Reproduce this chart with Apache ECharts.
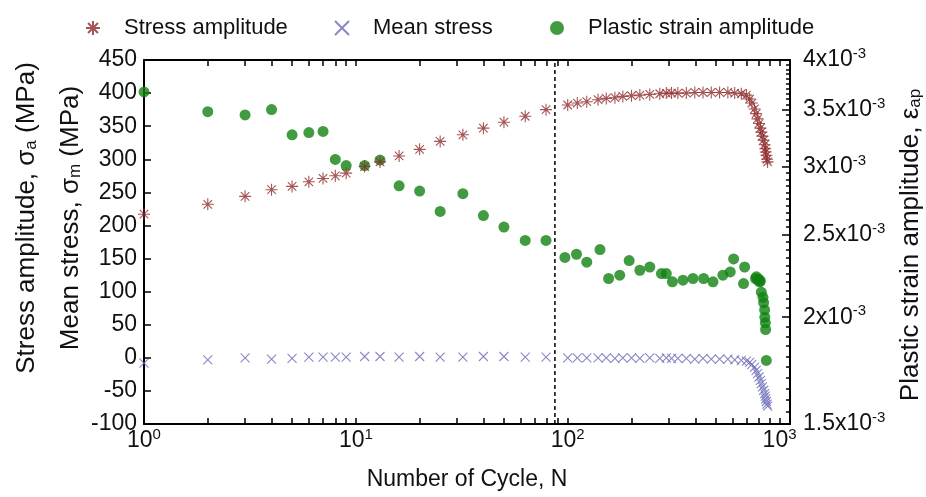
<!DOCTYPE html>
<html><head><meta charset="utf-8">
<script src="https://cdn.jsdelivr.net/npm/echarts@6/dist/echarts.min.js"></script>
<style>html,body{margin:0;padding:0;background:#fff}
.layer{position:absolute;left:0;top:0;width:926px;height:497px}</style>
</head><body><div id="axes" class="layer"></div><div id="c" class="layer"></div>
<script>
// ---- data ----
const cyclesStress = [1,2,3,4,5,6,7,8,9,
  11,13,16,20,25,32,40,50,63,79,
  100,111,123,139,152,167,182,200,219,244,
  272,292,309,331,363,398,435,476,521,570,
  614,660,
  697,722,740,762,775,787,800,812,820,830,
  841,850,856,860,866,872,878];
const stressAmplitude = [217,232,244,254,259,266,271,275,279,
  289,296,305,315,327,337,347,356,365,375,
  382,385,387,390,392,393,395,396,397,398,
  399,400,400,400,400,401,401,401,401,401,
  400,399,
  397,391,385,376,369,361,354,347,341,335,
  329,322,316,311,306,300,296];
const meanStress = [-8,-3,0,-2,-1,1,1,1,1,
  2,2,1,2,1,1,2,2,1,1,
  0,0,0,0,0,-1,0,0,-1,0,
  -1,0,-1,-1,-1,-2,-1,-2,-2,-2,
  -3,-4,
  -5,-7,-10,-14,-19,-24,-29,-34,-39,-44,
  -49,-54,-58,-62,-66,-70,-73];
const cyclesStrain = [1,2,3,4,5,6,7,8,9,
  11,13,16,20,25,32,40,50,63,79,
  97,110,123,142,156,176,195,219,244,
  277,292,312,350,390,438,485,540,585,607,
  676,684,770,777,790,800,805,812,820,835,
  841,850,852,857,859,866];
const plasticStrainAmplitude = [3.67e-3,3.48e-3,3.45e-3,3.50e-3,3.27e-3,3.29e-3,3.30e-3,3.06e-3,3.01e-3,
  3.01e-3,3.055e-3,2.85e-3,2.81e-3,2.66e-3,2.79e-3,2.63e-3,2.55e-3,2.46e-3,2.46e-3,
  2.35e-3,2.37e-3,2.32e-3,2.40e-3,2.22e-3,2.24e-3,2.33e-3,2.27e-3,2.29e-3,
  2.25e-3,2.25e-3,2.20e-3,2.21e-3,2.22e-3,2.22e-3,2.20e-3,2.24e-3,2.26e-3,2.34e-3,
  2.19e-3,2.29e-3,2.22e-3,2.23e-3,2.21e-3,2.215e-3,2.20e-3,2.205e-3,2.14e-3,2.11e-3,
  2.08e-3,2.04e-3,2.00e-3,1.97e-3,1.935e-3,1.78e-3];
const xTickLabels = [1,10,100,1000];
const leftTicks = {min:-100, max:450, interval:50};
const rightTickLabels = [0.0015,0.002,0.0025,0.003,0.0035,0.004];
const markerCycle = 87;

// ---- shared scale settings ----
const FONT = '"Liberation Sans", Arial, sans-serif';
const INK = '#111';
const GRID = {left:144, right:136, top:60, bottom:73};
const X_RANGE = {min:1, max:1120};
const R_RANGE = {min:0.0015, max:0.004};
const xMinor = [];
[1,10,100].forEach(d => { for (let k = 1; k <= 9; k++) xMinor.push(k*d); });
xMinor.push(1000);
const rightMinor = [];
for (let i = 30; i <= 80; i++) rightMinor.push(+(i*0.00005).toFixed(6));

const zip = (a,b) => a.map((v,i) => [v,b[i]]);
const mkLine = () => ({show:true, onZero:false, lineStyle:{color:'#000', width:2}});
const mkTick = (len, vals) => {
  const t = {show:true, inside:true, length:len, lineStyle:{color:'#000', width:1.5}};
  if (vals) t.customValues = vals;
  return t;
};
const mkSup = () => ({fontSize:15, fontFamily:FONT, color:INK, padding:[0,0,12,0]});

// ---- layer 1: axes frame, ticks, tick labels, x-axis name ----
const axesChart = echarts.init(document.getElementById('axes'));
axesChart.setOption({
  animation:false,
  grid:GRID,
  xAxis:[
    {type:'log', logBase:10, min:X_RANGE.min, max:X_RANGE.max, position:'bottom',
     axisLine:mkLine(), axisTick:mkTick(6, xMinor),
     axisLabel:{show:true, customValues:xTickLabels, margin:3, fontSize:23, fontFamily:FONT, color:INK,
       formatter: v => '10{sup|' + Math.round(Math.log10(v)) + '}', rich:{sup:mkSup()}},
     splitLine:{show:false},
     name:'Number of Cycle, N', nameLocation:'middle', nameGap:44,
     nameTextStyle:{fontSize:23, fontFamily:FONT, color:INK}},
    {type:'log', logBase:10, min:X_RANGE.min, max:X_RANGE.max, position:'top',
     axisLine:mkLine(), axisTick:mkTick(6, xMinor), axisLabel:{show:false}, splitLine:{show:false}}
  ],
  yAxis:[
    {type:'value', min:leftTicks.min, max:leftTicks.max, interval:leftTicks.interval, position:'left',
     axisLine:mkLine(), axisTick:mkTick(7),
     axisLabel:{show:true, margin:7, fontSize:23, fontFamily:FONT, color:INK}, splitLine:{show:false}},
    {type:'log', logBase:10, min:R_RANGE.min, max:R_RANGE.max, position:'right',
     axisLine:mkLine(), axisTick:mkTick(8, rightTickLabels),
     axisLabel:{show:true, customValues:rightTickLabels, margin:13, fontSize:23, fontFamily:FONT, color:INK,
       formatter: v => (Math.round(v*1e4)/10) + 'x10{sup|-3}', rich:{sup:mkSup()}},
     splitLine:{show:false}},
    {type:'log', logBase:10, min:R_RANGE.min, max:R_RANGE.max, position:'right',
     axisLine:{show:false}, axisTick:mkTick(4, rightMinor), axisLabel:{show:false}, splitLine:{show:false}}
  ],
  series:[{type:'scatter', data:[]}]
});

// ---- layer 2: data marks, legend, axis titles (same grid and scales) ----
const hiddenAxis = (extra) => Object.assign({axisLine:{show:false}, axisTick:{show:false},
  axisLabel:{show:false}, splitLine:{show:false}}, extra);
const star = 'path://M0,-1L0,1M-1,0L1,0M-0.707,-0.707L0.707,0.707M-0.707,0.707L0.707,-0.707';
const cross = 'path://M-1,-1L1,1M-1,1L1,-1';
const mkLegend = (left, name) => ({left:left, top:12, itemWidth:52, itemHeight:14, itemGap:0,
  textStyle:{fontSize:22, fontFamily:FONT, color:INK}, selectedMode:false, data:[name]});
const mkTitle = (x, y, text) => ({type:'text', x:x, y:y, rotation:Math.PI/2,
  style:{text:text, fontSize:26, fontFamily:FONT, fill:INK, align:'center', verticalAlign:'middle',
    rich:{sub:{fontSize:17, fontFamily:FONT, fill:INK, verticalAlign:'bottom'}}}});

const chart = echarts.init(document.getElementById('c'));
chart.setOption({
  animation:false,
  backgroundColor:'transparent',
  grid:GRID,
  legend:[
    mkLegend(80, 'Stress amplitude'),
    mkLegend(329, 'Mean stress'),
    mkLegend(545, 'Plastic strain amplitude')
  ],
  xAxis:[hiddenAxis({type:'log', logBase:10, min:X_RANGE.min, max:X_RANGE.max, position:'bottom'})],
  yAxis:[
    hiddenAxis({type:'value', min:leftTicks.min, max:leftTicks.max, interval:leftTicks.interval, position:'left'}),
    hiddenAxis({type:'log', logBase:10, min:R_RANGE.min, max:R_RANGE.max, position:'right'})
  ],
  series:[
    {name:'Stress amplitude', type:'scatter', xAxisIndex:0, yAxisIndex:0, z:4,
     symbol:star, symbolSize:12,
     itemStyle:{color:'#8e2a2a', borderColor:'#8e2a2a', borderWidth:1.1},
     data:zip(cyclesStress, stressAmplitude)},
    {name:'Mean stress', type:'scatter', xAxisIndex:0, yAxisIndex:0, z:3,
     symbol:cross, symbolSize:9,
     itemStyle:{color:'#6a6ab8', borderColor:'#6a6ab8', borderWidth:1.1},
     data:zip(cyclesStress, meanStress)},
    {name:'Plastic strain amplitude', type:'scatter', xAxisIndex:0, yAxisIndex:1, z:2,
     symbol:'circle', symbolSize:11,
     itemStyle:{color:'#128212'},
     data:zip(cyclesStrain, plasticStrainAmplitude)},
    {name:'marker', type:'line', xAxisIndex:0, yAxisIndex:0, z:1, silent:true,
     symbol:'none', lineStyle:{color:'#000', type:[4,3], width:1.5},
     data:[[markerCycle, leftTicks.min], [markerCycle, leftTicks.max]]}
  ],
  graphic:[
    mkTitle(27, 218, 'Stress amplitude, σ{sub|a} (MPa)'),
    mkTitle(71, 218, 'Mean stress, σ{sub|m} (MPa)'),
    mkTitle(911, 245, 'Plastic strain amplitude, ε{sub|ap}')
  ]
});
</script>
</body></html>
